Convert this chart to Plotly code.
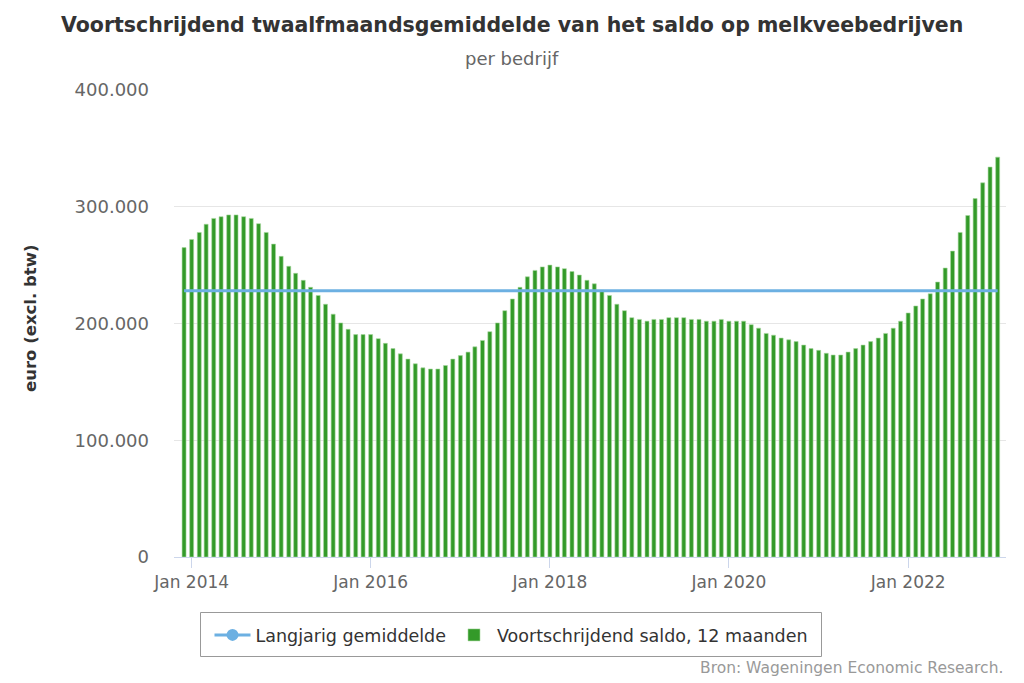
import plotly.graph_objects as go
import pandas as pd

# ---- data ----
start_month = "2013-12-01"
saldo = [
    265000, 272000, 278000, 285000, 290000, 291500, 293000, 293000, 291500, 290000,
    285500, 278000, 268000, 257500, 249000, 243000, 237000, 231000, 224000, 216500,
    208000, 200500, 195000, 190500, 190500, 190500, 187000, 183000, 178500, 174000,
    169500, 165500, 162000, 161000, 161000, 164000, 169500, 172500, 175500, 180000,
    185500, 193000, 200500, 211000, 221000, 231000, 240000, 245500, 248500, 250000,
    248500, 247000, 244500, 241500, 237000, 234000, 228500, 224000, 216500, 211000,
    205000, 203500, 202000, 203500, 203500, 205000, 205000, 205000, 203500, 203500,
    202000, 202000, 203500, 202000, 202000, 202000, 199000, 196000, 191500, 190000,
    187500, 186000, 184500, 181500, 178500, 177000, 174500, 173000, 173000, 175500,
    178500, 181500, 184500, 187500, 191500, 196000, 202000, 209000, 215000, 221000,
    225500, 235500, 247500, 262000, 278000, 292500, 307000, 320500, 334000, 342500,
]
months = pd.date_range(start_month, periods=len(saldo), freq="MS")
langjarig_gemiddelde = 228000

y_tickvals = [0, 100000, 200000, 300000, 400000]
y_ticktext = ["0", "100.000", "200.000", "300.000", "400.000"]
x_tickvals = ["2014-01-01", "2016-01-01", "2018-01-01", "2020-01-01", "2022-01-01"]
x_ticktext = ["Jan 2014", "Jan 2016", "Jan 2018", "Jan 2020", "Jan 2022"]

FONT = "DejaVu Sans"
GREEN = "#339a29"
BLUE = "#6cb0e2"

# plot area in pixels
L, R, T, B = 174, 1006, 90, 557
W, H = R - L, B - T


def px(x):
    return (x - L) / W


def py(y):
    return (B - y) / H


fig = go.Figure()
fig.add_trace(go.Scatter(
    x=[None], y=[None], mode="lines+markers", name="Langjarig gemiddelde",
    line=dict(color=BLUE, width=3), marker=dict(color=BLUE, size=12),
))
fig.add_trace(go.Bar(
    x=months, y=saldo, name="Voortschrijdend saldo, 12 maanden",
    marker=dict(color=GREEN, line=dict(color="#a8d8a0", width=0.6)),
))
fig.add_trace(go.Scatter(
    x=months, y=[langjarig_gemiddelde] * len(months), mode="lines",
    line=dict(color=BLUE, width=3), showlegend=False, name="Langjarig gemiddelde",
))

fig.update_layout(
    width=1024, height=683,
    margin=dict(l=L, r=1024 - R, t=T, b=683 - B),
    paper_bgcolor="white", plot_bgcolor="white",
    font=dict(family=FONT, color="#666666"),
    bargap=0.42,
    showlegend=True,
    legend=dict(
        orientation="h", xref="container", yref="container",
        x=511 / 1024, xanchor="center", y=1 - 635 / 683, yanchor="middle",
        borderwidth=0, bgcolor="rgba(0,0,0,0)",
        font=dict(family=FONT, size=17.5, color="#333333"),
        traceorder="normal", itemwidth=36,
    ),
    shapes=[
        dict(type="rect", xref="paper", yref="paper",
             x0=px(200.5), x1=px(821.5), y0=py(612.5), y1=py(656.5),
             line=dict(color="#999999", width=1), fillcolor="rgba(0,0,0,0)",
             layer="below"),
    ],
    xaxis=dict(
        type="date",
        range=["2013-10-21", "2023-02-04"],
        tickvals=x_tickvals, ticktext=x_ticktext,
        showgrid=False, showline=True, linecolor="#ccd6eb", linewidth=1,
        ticks="outside", ticklen=10, tickcolor="#ccd6eb",
        tickfont=dict(family=FONT, size=17, color="#666666"),
        zeroline=False,
    ),
    yaxis=dict(
        range=[0, 400000],
        tickvals=y_tickvals, ticktext=y_ticktext,
        showgrid=True, gridcolor="#e6e6e6", gridwidth=1,
        zeroline=False, showline=False, ticks="",
        ticklabelstandoff=24,
        tickfont=dict(family=FONT, size=18, color="#666666"),
    ),
    annotations=[
        dict(text="<b>Voortschrijdend twaalfmaandsgemiddelde van het saldo op melkveebedrijven</b>",
             xref="paper", yref="paper", x=px(512), y=py(25),
             xanchor="center", yanchor="middle", showarrow=False,
             font=dict(family=FONT, size=20.5, color="#333333")),
        dict(text="per bedrijf",
             xref="paper", yref="paper", x=px(512), y=py(59),
             xanchor="center", yanchor="middle", showarrow=False,
             font=dict(family=FONT, size=18, color="#666666")),
        dict(text="<b>euro (excl. btw)</b>",
             xref="paper", yref="paper", x=px(30), y=py(319),
             xanchor="center", yanchor="middle", showarrow=False, textangle=-90,
             font=dict(family=FONT, size=16.5, color="#333333")),
        dict(text="Bron: Wageningen Economic Research.",
             xref="paper", yref="paper", x=px(1005), y=py(668),
             xanchor="right", yanchor="middle", showarrow=False,
             font=dict(family=FONT, size=15.5, color="#999999")),
    ],
)

fig.write_html("out.html")
